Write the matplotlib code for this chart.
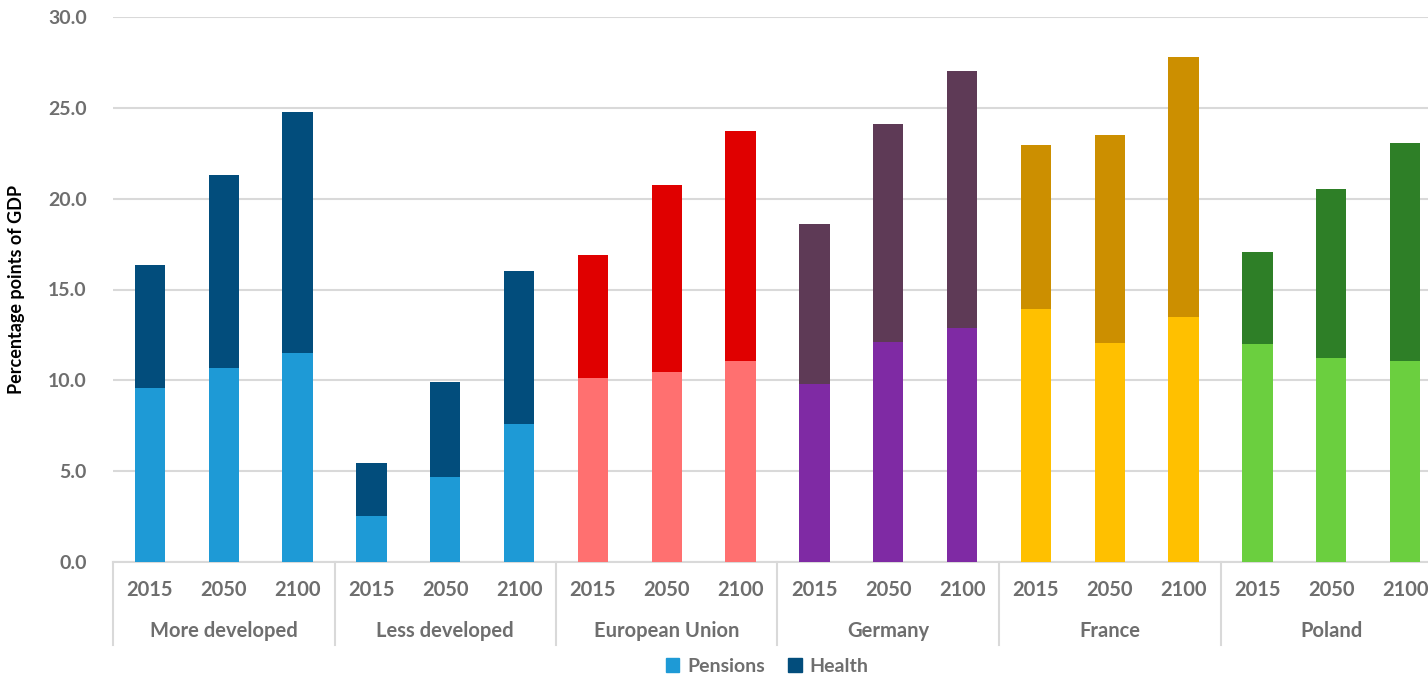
import matplotlib
matplotlib.use("Agg")
import matplotlib.pyplot as plt
import matplotlib.transforms as mtransforms
from matplotlib.patches import Patch

# Spending on pensions and health, share of GDP
groups = ["More developed", "Less developed", "European Union", "Germany", "France", "Poland"]
years = ["2015", "2050", "2100"]
pensions = [
    [9.6, 10.7, 11.5],
    [2.55, 4.7, 7.6],
    [10.15, 10.45, 11.05],
    [9.8, 12.1, 12.9],
    [13.95, 12.05, 13.5],
    [12.0, 11.25, 11.05],
]
totals = [
    [16.35, 21.3, 24.75],
    [5.45, 9.9, 16.0],
    [16.9, 20.75, 23.7],
    [18.6, 24.1, 27.0],
    [22.95, 23.5, 27.8],
    [17.05, 20.55, 23.05],
]
health = [[t - p for t, p in zip(tr, pr)] for tr, pr in zip(totals, pensions)]

pension_colors = ["#1E9AD6", "#1E9AD6", "#FF7070", "#7F2AA4", "#FFC000", "#6BCF3F"]
health_colors = ["#024D7C", "#024D7C", "#E00000", "#5E3A56", "#CC8F00", "#2E7F27"]

plt.rcParams["font.family"] = ["Lato", "DejaVu Sans"]
gray = "#6E6E6E"
grid = "#D9D9D9"

fig = plt.figure(figsize=(14.28, 6.74), dpi=100)
n = len(groups) * len(years)
ax = fig.add_axes([113 / 1428, 112 / 674, 1329 / 1428, 545 / 674])

bar_w = 0.41
for g, name in enumerate(groups):
    xs = [g * len(years) + i for i in range(len(years))]
    ax.bar(xs, pensions[g], width=bar_w, color=pension_colors[g], zorder=3)
    ax.bar(xs, health[g], bottom=pensions[g], width=bar_w, color=health_colors[g], zorder=3)

ax.set_xlim(-0.5, n - 0.5)
ax.set_ylim(0, 30)
ax.set_yticks([0, 5, 10, 15, 20, 25, 30])
ax.set_yticklabels([f"{v:.1f}" for v in [0, 5, 10, 15, 20, 25, 30]],
                   fontsize=14, fontweight="bold", color=gray)
ax.tick_params(axis="y", length=0, pad=19)
ax.set_xticks([])
ax.yaxis.grid(True, color=grid, linewidth=1.5, zorder=0)
ax.set_axisbelow(True)
for s in ["top", "right", "left"]:
    ax.spines[s].set_visible(False)
ax.spines["bottom"].set_color(grid)
ax.spines["bottom"].set_linewidth(1.5)

ax.set_ylabel("Percentage points of GDP", fontsize=13, fontweight="bold", color="black")
ax.yaxis.set_label_coords(-0.066, 0.5)

# two-level category axis
trans = mtransforms.blended_transform_factory(ax.transData, ax.transAxes)
sep_bottom = -83 / 545
for g in range(len(groups) + 1):
    xb = g * len(years) - 0.5
    ax.plot([xb, xb], [0, sep_bottom], transform=trans, color=grid,
            linewidth=1.5, clip_on=False)
for g, name in enumerate(groups):
    for i, yr in enumerate(years):
        ax.text(g * len(years) + i, -28 / 545, yr, transform=trans, ha="center",
                va="center", fontsize=14.5, fontweight="bold", color=gray)
    ax.text(g * len(years) + 1, -69 / 545, name, transform=trans, ha="center",
            va="center", fontsize=14.5, fontweight="bold", color=gray)

handles = [Patch(color="#1E9AD6", label="Pensions"), Patch(color="#024D7C", label="Health")]
leg = fig.legend(handles=handles, loc="center", bbox_to_anchor=(767 / 1428, 1 - 666 / 674),
                 ncol=2, frameon=False, handlelength=0.7, handleheight=0.7,
                 handletextpad=0.4, columnspacing=1.2, prop={"size": 14, "weight": "bold"})
for t in leg.get_texts():
    t.set_color(gray)

fig.savefig("out.png", dpi=100)
